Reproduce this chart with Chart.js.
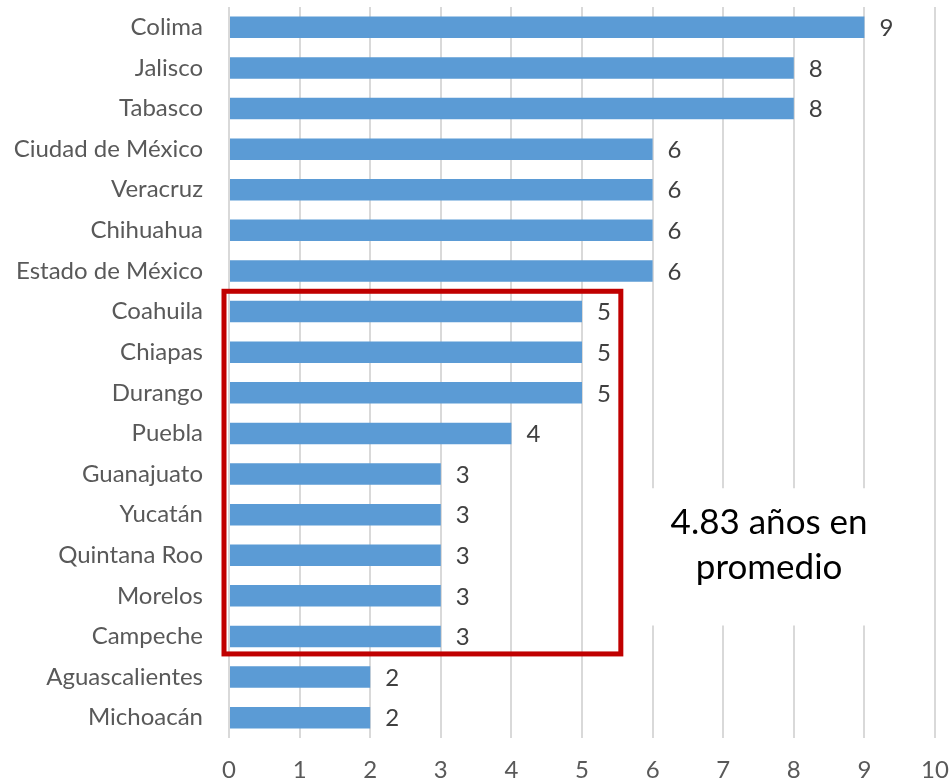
<!DOCTYPE html>
<html>
<head>
<meta charset="utf-8">
<script src="https://cdn.jsdelivr.net/npm/chart.js@4"></script>
<style>
  body { margin: 0; background: #fff; }
  #wrap { width: 949px; height: 780px; }
</style>
</head>
<body>
<div id="wrap"><canvas id="aniosChart"></canvas></div>
<script>
const estados = ['Colima', 'Jalisco', 'Tabasco', 'Ciudad de México', 'Veracruz', 'Chihuahua',
    'Estado de México', 'Coahuila', 'Chiapas', 'Durango', 'Puebla', 'Guanajuato', 'Yucatán',
    'Quintana Roo', 'Morelos', 'Campeche', 'Aguascalientes', 'Michoacán'];
const anios = [9, 8, 8, 6, 6, 6, 6, 5, 5, 5, 4, 3, 3, 3, 3, 3, 2, 2];
const xTicks = [0, 1, 2, 3, 4, 5, 6, 7, 8, 9, 10];
const notaLineas = ['4.83 años en', 'promedio'];

const FONT = 'Lato';

// etiquetas de valor al final de cada barra
const valueLabels = {
    id: 'valueLabels',
    afterDatasetsDraw(chart) {
        const ctx = chart.ctx;
        const meta = chart.getDatasetMeta(0);
        ctx.save();
        ctx.font = '24px ' + FONT;
        ctx.fillStyle = '#404040';
        ctx.textAlign = 'left';
        ctx.textBaseline = 'middle';
        meta.data.forEach((bar, i) => {
            ctx.fillText(String(anios[i]), bar.x + 15, bar.y + 1);
        });
        ctx.restore();
    }
};

// recuadro rojo y nota del promedio
const recuadro = {
    id: 'recuadro',
    afterDraw(chart) {
        const ctx = chart.ctx;
        const x = chart.scales.x;
        const y = chart.scales.y;
        ctx.save();
        // fondo blanco de la nota
        ctx.fillStyle = '#ffffff';
        ctx.fillRect(x.getPixelForValue(5.7), y.getPixelForValue(11.35),
            x.getPixelForValue(9.93) - x.getPixelForValue(5.7),
            y.getPixelForValue(14.73) - y.getPixelForValue(11.35));
        ctx.fillStyle = '#000000';
        ctx.font = '35px ' + FONT;
        ctx.textAlign = 'center';
        ctx.textBaseline = 'middle';
        const cx = x.getPixelForValue(7.65);
        ctx.fillText(notaLineas[0], cx, y.getPixelForValue(12.2));
        ctx.fillText(notaLineas[1], cx, y.getPixelForValue(13.3));
        // recuadro
        ctx.strokeStyle = '#C00000';
        ctx.lineWidth = 5;
        const left = x.getPixelForValue(0) - 5;
        const right = x.getPixelForValue(5.55);
        const top = y.getPixelForValue(6.5);
        const bottom = y.getPixelForValue(15.43);
        ctx.strokeRect(left, top, right - left, bottom - top);
        ctx.restore();
    }
};

const ctxAnios = document.getElementById('aniosChart').getContext('2d');
new Chart(ctxAnios, {
    type: 'bar',
    data: {
        labels: estados,
        datasets: [{
            label: 'Años',
            data: anios,
            backgroundColor: '#5B9BD5',
            borderWidth: 0,
            categoryPercentage: 1,
            barPercentage: 0.53
        }]
    },
    options: {
        indexAxis: 'y',
        responsive: true,
        maintainAspectRatio: false,
        animation: false,
        layout: { padding: { top: 7, right: 14, bottom: 0, left: 0 } },
        scales: {
            x: {
                min: 0,
                max: 10,
                afterBuildTicks: (scale) => {
                    scale.ticks = xTicks.map(v => ({ value: v }));
                },
                afterFit: (scale) => {
                    scale.height = 42;
                    scale.paddingLeft = 0;
                    scale.paddingRight = 0;
                },
                grid: { color: '#D9D9D9', lineWidth: 2, drawTicks: false },
                border: { display: false },
                ticks: {
                    color: '#595959',
                    font: { family: FONT, size: 24 },
                    padding: 18,
                    maxRotation: 0
                }
            },
            y: {
                grid: { display: false, drawTicks: false },
                border: { display: false },
                afterFit: (scale) => {
                    scale.width = 229;
                    scale.paddingTop = 0;
                    scale.paddingBottom = 0;
                },
                ticks: {
                    color: '#595959',
                    font: { family: FONT, size: 24 },
                    padding: 26,
                    autoSkip: false
                }
            }
        },
        plugins: {
            legend: { display: false },
            tooltip: { enabled: false }
        }
    },
    plugins: [valueLabels, recuadro]
});
</script>
</body>
</html>
